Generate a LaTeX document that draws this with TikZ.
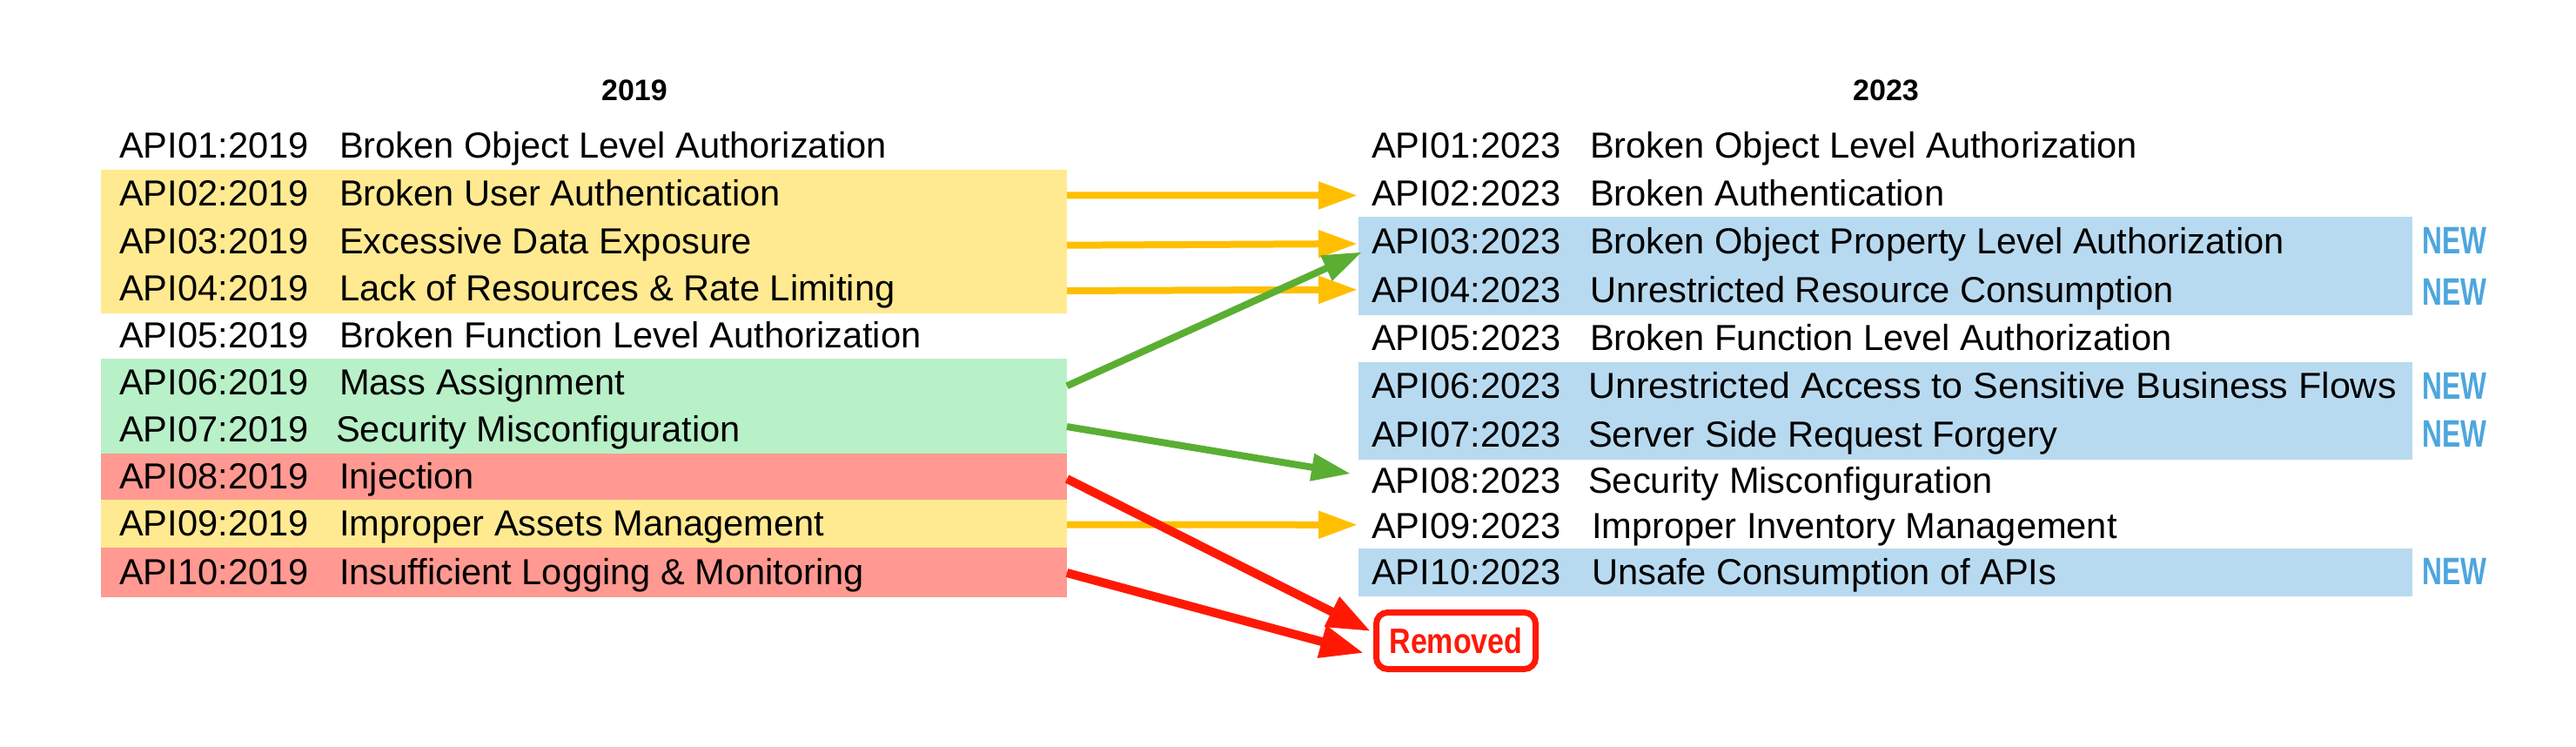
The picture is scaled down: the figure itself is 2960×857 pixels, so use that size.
\documentclass[tikz,border=0pt]{standalone}
\usepackage{fontspec}
\setmainfont{Liberation Sans}
\usepackage{graphicx}
\usetikzlibrary{arrows.meta,calc}
\definecolor{bandyellow}{RGB}{255,234,145}
\definecolor{bandgreen}{RGB}{184,240,200}
\definecolor{bandred}{RGB}{255,153,145}
\definecolor{bandblue}{RGB}{184,218,240}
\definecolor{arryellow}{RGB}{255,191,0}
\definecolor{arrgreen}{RGB}{90,175,50}
\definecolor{arrred}{RGB}{255,25,5}
\definecolor{newblue}{RGB}{77,166,222}
\begin{document}
\begin{tikzpicture}[x=1pt,y=-1pt,
  lband/.style={inner sep=0pt,outer sep=0pt,minimum width=1110pt},
  rband/.style={inner sep=0pt,outer sep=0pt,minimum width=1211pt},
  itemtext/.style={anchor=base west,inner sep=0pt,font=\fontsize{41.6}{49}\selectfont},
  yeartext/.style={anchor=base,inner sep=0pt,font=\fontsize{34}{40}\selectfont\bfseries},
  newtag/.style={anchor=west,inner sep=0pt,text=newblue,font=\fontsize{44}{50}\selectfont\bfseries},
  removedbox/.style={draw=arrred,line width=7pt,fill=white,rounded corners=13pt,minimum width=183pt,minimum height=65pt,inner sep=0pt,text=arrred,font=\fontsize{40.5}{48}\selectfont\bfseries},
  yconn/.style={draw=arryellow,line width=8pt,-{Triangle[length=45pt,width=30pt]}},
  gconn/.style={draw=arrgreen,line width=8pt,-{Triangle[length=45pt,width=30pt]}},
  rconn/.style={draw=arrred,line width=10pt,-{Triangle[length=50pt,width=36pt]}}
]
\useasboundingbox (0,0) rectangle (2960,857);
\fill[white] (0,0) rectangle (2960,857);

% headings
\node[yeartext] (h19) at (729,115) {2019};
\node[yeartext] (h23) at (2167,115) {2023};

% left bands
\node[lband,minimum height=55pt] (l1) at (671,167.5) {};
\node[lband,minimum height=55.7pt,fill=bandyellow] (l2) at (671,222.35) {};
\node[lband,minimum height=55.6pt,fill=bandyellow] (l3) at (671,277) {};
\node[lband,minimum height=55.7pt,fill=bandyellow] (l4) at (671,331.65) {};
\node[lband,minimum height=53pt] (l5) at (671,385.5) {};
\node[lband,minimum height=55.5pt,fill=bandgreen] (l6) at (671,439.25) {};
\node[lband,minimum height=55.5pt,fill=bandgreen] (l7) at (671,493.75) {};
\node[lband,minimum height=54pt,fill=bandred] (l8) at (671,547.5) {};
\node[lband,minimum height=56pt,fill=bandyellow] (l9) at (671,601.5) {};
\node[lband,minimum height=57pt,fill=bandred] (l10) at (671,657.5) {};

% right bands
\node[rband,minimum height=55pt] (r1) at (2166.5,166.5) {};
\node[rband,minimum height=55pt] (r2) at (2166.5,221.5) {};
\node[rband,minimum height=57pt,fill=bandblue] (r3) at (2166.5,277) {};
\node[rband,minimum height=57pt,fill=bandblue] (r4) at (2166.5,333) {};
\node[rband,minimum height=55pt] (r5) at (2166.5,388.5) {};
\node[rband,minimum height=56.5pt,fill=bandblue] (r6) at (2166.5,443.75) {};
\node[rband,minimum height=56.5pt,fill=bandblue] (r7) at (2166.5,499.25) {};
\node[rband,minimum height=51.5pt] (r8) at (2166.5,552.75) {};
\node[rband,minimum height=51.5pt] (r9) at (2166.5,604.25) {};
\node[rband,minimum height=55pt,fill=bandblue] (r10) at (2166.5,657.5) {};

% left texts
\node[itemtext] (l1c) at (137,181.5) {API01:2019};
\node[itemtext] (l1t) at (390,181.5) {Broken Object Level Authorization};
\node[itemtext] (l2c) at (137,236.4) {API02:2019};
\node[itemtext] (l2t) at (390,236.4) {Broken User Authentication};
\node[itemtext] (l3c) at (137,291) {API03:2019};
\node[itemtext] (l3t) at (390,291) {Excessive Data Exposure};
\node[itemtext] (l4c) at (137,345.7) {API04:2019};
\node[itemtext] (l4t) at (390,345.7) {Lack of Resources \& Rate Limiting};
\node[itemtext] (l5c) at (137,399.5) {API05:2019};
\node[itemtext] (l5t) at (390,399.5) {Broken Function Level Authorization};
\node[itemtext] (l6c) at (137,453.3) {API06:2019};
\node[itemtext] (l6t) at (390,453.3) {Mass Assignment};
\node[itemtext] (l7c) at (137,507.8) {API07:2019};
\node[itemtext] (l7t) at (386,507.8) {Security Misconfiguration};
\node[itemtext] (l8c) at (137,561.5) {API08:2019};
\node[itemtext] (l8t) at (390,561.5) {Injection};
\node[itemtext] (l9c) at (137,615.5) {API09:2019};
\node[itemtext] (l9t) at (390,615.5) {Improper Assets Management};
\node[itemtext] (l10c) at (137,671.5) {API10:2019};
\node[itemtext] (l10t) at (390,671.5) {Insufficient Logging \& Monitoring};

% right texts
\node[itemtext] (r1c) at (1576,181.5) {API01:2023};
\node[itemtext] (r1t) at (1827,181.5) {Broken Object Level Authorization};
\node[itemtext] (r2c) at (1576,236) {API02:2023};
\node[itemtext] (r2t) at (1827,236) {Broken Authentication};
\node[itemtext] (r3c) at (1576,291) {API03:2023};
\node[itemtext] (r3t) at (1827,291) {Broken Object Property Level Authorization};
\node[itemtext] (r4c) at (1576,347) {API04:2023};
\node[itemtext] (r4t) at (1827,347) {Unrestricted Resource Consumption};
\node[itemtext] (r5c) at (1576,402.5) {API05:2023};
\node[itemtext] (r5t) at (1827,402.5) {Broken Function Level Authorization};
\node[itemtext] (r6c) at (1576,457.8) {API06:2023};
\node[itemtext] (r6t) at (1825,457.8) {\scalebox{1.035}[1]{Unrestricted Access to Sensitive Business Flows}};
\node[itemtext] (r7c) at (1576,513.3) {API07:2023};
\node[itemtext] (r7t) at (1825,513.3) {Server Side Request Forgery};
\node[itemtext] (r8c) at (1576,566.8) {API08:2023};
\node[itemtext] (r8t) at (1825,566.8) {Security Misconfiguration};
\node[itemtext] (r9c) at (1576,618.3) {API09:2023};
\node[itemtext] (r9t) at (1829,618.3) {Improper Inventory Management};
\node[itemtext] (r10c) at (1576,671.5) {API10:2023};
\node[itemtext] (r10t) at (1829,671.5) {Unsafe Consumption of APIs};

% NEW tags
\node[newtag] (n3) at (2783,276) {\scalebox{0.72}[1]{NEW}};
\node[newtag] (n4) at (2783,335) {\scalebox{0.72}[1]{NEW}};
\node[newtag] (n6) at (2783,443) {\scalebox{0.72}[1]{NEW}};
\node[newtag] (n7) at (2783,498) {\scalebox{0.72}[1]{NEW}};
\node[newtag] (n10) at (2783,656) {\scalebox{0.72}[1]{NEW}};

% removed box
\node[removedbox] (rm) at (1673,736) {\scalebox{0.84}[1]{Removed}};

% connectors
\draw[yconn] ($(l2.east)+(0,2)$) -- ($(r2.west)+(-1,3)$);
\draw[yconn] ($(l3.east)+(0,4.7)$) -- ($(r3.west)+(-1,3)$);
\draw[yconn] ($(l4.east)+(0,2.3)$) -- ($(r4.west)+(-1,-0.3)$);
\draw[yconn] ($(l9.east)+(0,1.2)$) -- ($(r9.west)+(-1,-1.5)$);
\draw[gconn] ($(l6.east)+(0,4)$) -- ($(r3.south west)+(4,-16)$);
\draw[gconn] ($(l7.east)+(0,-3.7)$) -- ($(r8.west)+(-9,-8.7)$);
\draw[rconn] ($(l8.east)+(0,2.5)$) -- ($(rm.west)+(-3,-11)$);
\draw[rconn] ($(l10.east)+(0,0.5)$) -- ($(rm.west)+(-11,14)$);
\end{tikzpicture}
\end{document}
